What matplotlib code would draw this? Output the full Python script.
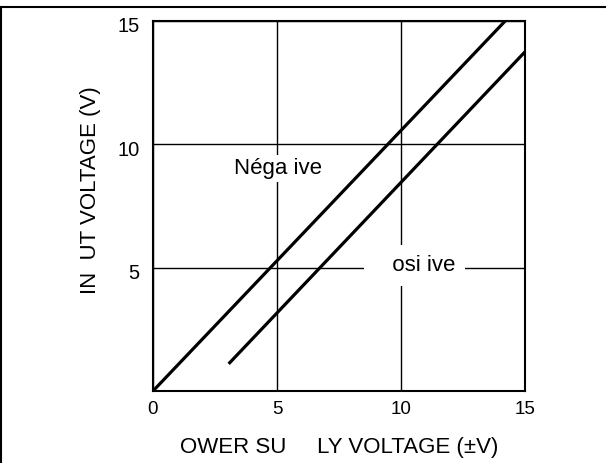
import matplotlib
matplotlib.use("Agg")
import matplotlib.pyplot as plt
import matplotlib.transforms as mtransforms
from matplotlib.lines import Line2D

plt.rcParams['font.family'] = ['Liberation Sans', 'DejaVu Sans']

# data
neg_x = [0, 14.2]
neg_y = [0, 15]
pos_x = [3.05, 15]
pos_y = [1.1, 13.75]

x_ticks = [0, 5, 10, 15]
y_ticks = [5, 10, 15]
x_label = "OWER SU     LY VOLTAGE (\u00b1V)"
y_label = "IN  UT VOLTAGE (V)"

fig = plt.figure(figsize=(6.06, 4.63), dpi=100)
ax = fig.add_axes([153/606, 1 - 391/463, 372/606, 370/463])

ax.plot(neg_x, neg_y, color='black', lw=2.3, solid_capstyle='butt', zorder=3)
ax.plot(pos_x, pos_y, color='black', lw=2.3, solid_capstyle='butt', zorder=3)

ax.set_xlim(0, 15)
ax.set_ylim(0, 15)
ax.set_xticks(x_ticks)
ax.set_yticks(y_ticks)
ax.tick_params(axis='x', length=0, pad=7, labelsize=13.5)
ax.tick_params(axis='y', length=0, pad=9.5, labelsize=14.5)
# y tick labels sit a little below their grid line in the reference
shift = mtransforms.ScaledTranslation(0, -0.04, fig.dpi_scale_trans)
for lab in ax.get_yticklabels():
    lab.set_transform(lab.get_transform() + shift)
ax.grid(True, color='black', lw=1.0)
ax.set_axisbelow(True)
for s in ax.spines.values():
    s.set_linewidth(1.5)

# labels inside the plot, white box hides the grid behind them
ax.text(5.05, 8.8, "N\u00e9ga ive", fontsize=16, ha='center', va='baseline',
        bbox=dict(boxstyle='square,pad=0.15', fc='white', ec='none'), zorder=2)
ax.text(8.9, 4.88, "   osi ive", fontsize=16, ha='left', va='baseline',
        bbox=dict(boxstyle='square,pad=0.45', fc='white', ec='none'), zorder=2)

fig.text(339/606, 1 - 448/463, x_label, fontsize=16, ha='center', va='center')
fig.text(90.5/606, 1 - 190/463, y_label, fontsize=16, rotation=90,
         ha='center', va='center')

# outer frame (top and left edges)
fig.add_artist(Line2D([0, 1], [1 - 6.7/463, 1 - 6.7/463], transform=fig.transFigure,
                      color='black', lw=1.5))
fig.add_artist(Line2D([1.2/606, 1.2/606], [0, 1 - 6.7/463], transform=fig.transFigure,
                      color='black', lw=1.5))

fig.savefig("out.png", dpi=100)
